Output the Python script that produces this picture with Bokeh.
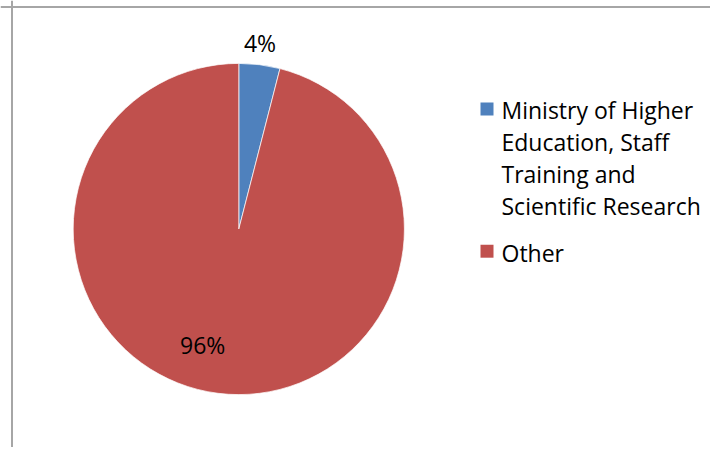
import numpy as np
from bokeh.plotting import figure
from bokeh.models import Range1d, Span, ColumnDataSource
from bokeh.core.properties import value
from bokeh.embed import file_html
from bokeh.resources import INLINE

# ---- data ----
categories = ["Ministry of Higher Education, Staff Training and Scientific Research", "Other"]
shares = [4, 96]
pct_labels = ["4%", "96%"]
legend_lines = [["Ministry of Higher", "Education, Staff", "Training and", "Scientific Research"], ["Other"]]
colors = ["#4F81BD", "#C0504D"]

FONT = "Open Sans"
FS = "23px"

# page-pixel coordinate system (y negated)
W, H = 710, 447
p = figure(width=W, height=H, output_backend="svg", toolbar_location=None,
           x_range=Range1d(0, W), y_range=Range1d(-H, 0),
           min_border=0, min_border_left=0, min_border_right=0,
           min_border_top=0, min_border_bottom=0)
p.axis.visible = False
p.grid.visible = False
p.outline_line_color = None
p.background_fill_color = "white"

# chart-area border (left and top, the rest is cropped)
p.add_layout(Span(location=11.5, dimension="height", line_color="#A6A6A6", line_width=2))
p.add_layout(Span(location=-6.5, dimension="width", line_color="#A6A6A6", line_width=2))

# pie
cx, cy, r = 238.3, -228.5, 165.6
vals = np.array(shares, dtype=float)
frac = vals / vals.sum()
ends = np.cumsum(frac)
starts = ends - frac
start_ang = np.pi / 2 - 2 * np.pi * starts
end_ang = np.pi / 2 - 2 * np.pi * ends
src = ColumnDataSource(dict(start=start_ang, end=end_ang, color=colors, cat=categories))
p.wedge(x=cx, y=cy, radius=r, start_angle="start", end_angle="end", direction="clock",
        fill_color="color", line_color="white", line_width=0.7, source=src)

# percentage labels (outside for the small slice, inside for the large one)
mid = np.pi / 2 - 2 * np.pi * (starts + ends) / 2
lab_r = np.array([r + 20, r * 0.745])
lab_rot = np.radians([0.65, -9.8])   # Excel best-fit nudges
lx = cx + lab_r * np.cos(mid + lab_rot)
ly = cy + lab_r * np.sin(mid + lab_rot) + 2
p.text(x=lx, y=ly, text=pct_labels, text_font=value(FONT), text_font_size=FS,
       text_align="center", text_baseline="middle", text_color="black")

# legend
leg_x_sq, leg_x_txt = 480, 501
first_base = -116
line_gap = 32.3
group_gap = 14.5
txt_shift = 7
xs, ys, txts = [], [], []
sq_x, sq_y = [], []
y = first_base
for gi, lines in enumerate(legend_lines):
    sq_x.append(leg_x_sq + 6.5)
    sq_y.append(y + 7.5 + gi * 1.5)
    for li, t in enumerate(lines):
        xs.append(leg_x_txt)
        ys.append(y + txt_shift)
        txts.append(t)
        y -= line_gap
    y -= group_gap
p.rect(x=sq_x, y=sq_y, width=13, height=13, fill_color=colors, line_color=None)
p.text(x=xs, y=ys, text=txts, text_font=value(FONT), text_font_size=FS,
       text_align="left", text_baseline="alphabetic", text_color="black")

open("out.html", "w").write(file_html(p, INLINE))
